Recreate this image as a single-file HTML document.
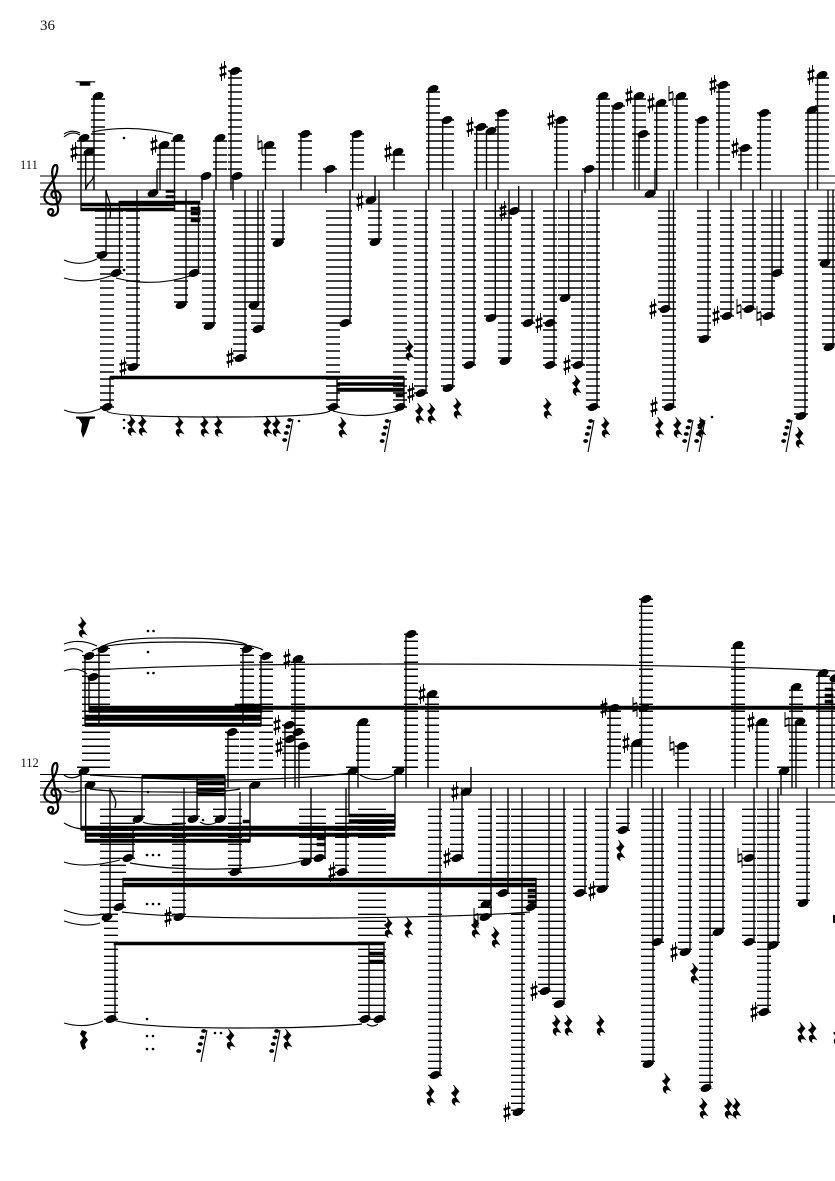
<!DOCTYPE html>
<html><head><meta charset="utf-8"><style>
html,body{margin:0;padding:0;background:#fff}
svg{display:block}
text{font-family:"Liberation Serif",serif;fill:#111}
.st{stroke:#000;stroke-width:1.35;fill:none}
.lg{stroke:#000;stroke-width:14;stroke-dasharray:1.45 5.55;fill:none}
.sl{stroke:#000;stroke-width:1.15;fill:none}
.dt{stroke:#000;stroke-width:2.6;stroke-linecap:round;fill:none}
</style></head><body>
<svg width="835" height="1181" viewBox="0 0 835 1181" xmlns="http://www.w3.org/2000/svg">
<defs>
<ellipse id="n" rx="5.7" ry="3.7" transform="rotate(-22)"/>
<g id="s"><path d="M-1.5-7.5V10M1.5-10V7.5" stroke="#000" stroke-width="1" fill="none"/><path d="M-3.4-2.3L3.4-4.7M-3.4 4.7L3.4 2.3" stroke="#000" stroke-width="2.5" fill="none"/></g>
<g id="h"><path d="M-2-10V4.5L2 3M2-3.500V10M-2-3L2-4.500" stroke="#000" stroke-width="1" fill="none"/><path d="M-2-2.700L2-4M-2 4L2 2.700" stroke="#000" stroke-width="1.7" fill="none"/></g>
<path id="r" d="M-2.500-10L3-3.500Q0-.5-.5 2L3.500 7.500C0 6-2.500 7-.8 10.500C-5 8-5 2.500 0 3L-4.500-2Q-.5-4-1-7z" stroke="#000" stroke-width=".7"/>
<g id="x"><path d="M0 0L-6 32" stroke="#000" stroke-width="1.1"/><ellipse cx="-3.300" cy="1" rx="2.500" ry="1.900"/><ellipse cx="-5" cy="7.500" rx="2.500" ry="1.900"/><ellipse cx="-6.700" cy="14" rx="2.500" ry="1.900"/><ellipse cx="-8.300" cy="21" rx="2.500" ry="1.900"/></g>
<path id="c" d="M55 198c-4 0-5-6-1-7c5-1 8 4 6 9c-2 6-12 6-15 0c-3-8 6-15 10-23c3-6 3-12 1-12c-3 0-5 5-3 14l5 29c1 6-4 9-8 7c-3-2-2-6 1-6c3 0 3 5 0 5" fill="none" stroke="#000" stroke-width="2.200"/>
</defs>

<text x="40" y="30" font-size="15">36</text>
<text x="20" y="169" font-size="12.5">111</text>
<text x="20.500" y="767" font-size="12.500">112</text>

<!-- staves -->
<path d="M40 176H835M40 183H835M40 190H835M40 197H835M40 204H835M40 788H835M40 795H835M40 802H835" stroke="#000" fill="none"/>
<path d="M40 774.500H835M40 781.500H835" stroke="#000" fill="none"/>
<use href="#c"/><use href="#c" y="598"/>

<!-- ledger stacks -->
<path class="lg" d="M98 169.7V94M84 169.7V136M89 169.7V150M164 169.7V143M178 169.7V136M220 169.7V136M235 169.7V70M269 169.7V143M305 169.7V133M357 169.7V133M398 169.7V150M433 169.7V87M447 169.7V119M481 169.7V126M491 169.7V129M502 169.7V112M561 169.7V119M603 169.7V94M618 169.7V105M639 169.7V94M643 169.7V133M661 169.7V101M681 169.7V94M702 169.7V119M723 169.7V84M745 169.7V147M764 169.7V112M812 169.7V108M822 169.7V73M330 169.7V168M589 169.7V168"/>
<path class="lg" d="M514 210.3V212M102 210.3V256M116 210.3V274M133 210.3V368M107 210.3V408M181 210.3V306M194 210.3V274M209 210.3V327M240 210.3V359M254 210.3V306M258 210.3V330M278 210.3V244M333 210.3V408M345 210.3V324M375 210.3V243M400 210.3V408M421 210.3V394M448 210.3V389M469 210.3V366M491 210.3V319M505 210.3V362M528 210.3V324M550 210.3V366M565 210.3V299M578 210.3V366M593 210.3V408M665 210.3V310M669 210.3V408M704 210.3V340M727 210.3V317M749 210.3V310M768 210.3V317M777 210.3V274M801 210.3V417M825 210.3V264M829 210.3V348"/>
<path class="lg" d="M89 768V655M103 768V648M93 768V676M84 768V766.500M247 768V648M266 768V655M232 768V731M298 768V658M289 768V724M298 768V731M303 768V745M363 768V721M353 768V766.500M399 768V766.500M411 768V633M432 768V693M614 768V707M646 768V598M637 768V742M682 768V745M738 768V644M762 768V721M796 768V686M800 768V721M784 768V766.500M823 768V672M835 768V677"/>
<path class="lg" d="M138 808.600V820M193 808.600V820M220 808.600V820M128 808.600V859M107 808.600V918M119 808.600V908M111 808.600V1020M179 808.600V918M235 808.600V873M306 808.600V863M319 808.600V859M342 808.600V873M365 808.600V1020M379 808.600V1020M435 808.600V1076M457 808.600V859M485 808.600V918M503 808.600V894M531 808.600V908M518 808.600V1113M545 808.600V992M559 808.600V1005M580 808.600V894M602 808.600V890M623 808.600V831M648 808.600V1065M657 808.600V943M685 808.600V953M706 808.600V1089M718 808.600V933M749 808.600V943M773 808.600V946M764 808.600V1013M803 808.600V904"/>

<!-- stems -->
<path class="st" d="M94 96V190M81 138V211M85.700 152V190M160 145V190M174.500 138V211M216 138V190M231 71V190M265.500 145V190M301 134V190M352.700 134V190M394 152V190M428.700 89V190M442.700 120V190M476.700 127V190M486.500 131V190M498 113V190M556.700 120V190M599.300 96V190M613 106V190M635 96V190M639 134V190M656.700 103V190M676.700 96V190M697.500 120V190M719 85V190M741 148V190M760.500 113V190M808 110V190M817.500 75V190M202 176V200M233 176V200M326 169V193M585 169V193M157 193V169M375 200V176M518.700 211V186M655 194V169"/>
<path class="st" d="M106 255V190M119.500 273V201M137 367V190M110 407V377M186 305V190M198.500 273V201M214 326V190M245 358V190M258 305V190M263 329V190M283 243V190M337 407V377M350 323V190M379 242V190M404 407V377M426 393V190M452.700 388V190M474 365V190M495.300 318V190M509 361V190M532 323V190M554 365V190M568.700 298V190M582 365V190M597 407V190M669 309V190M673.500 407V190M708 339V190M731 316V190M753 309V190M772 316V190M781 273V190M805 416V190M828 263V190M833 347V190"/>
<path class="st" d="M85 656V726M99 649V726M89 677V712M81 771V830M85.700 785V842M243 649V726M261 656V726M228 732V788M250 785V842M295 659V788M285 725V788M299 746V788M358 722V788M349 771V817M395 771V828M406 634V788M428 694V788M471 792V767M610 708V788M641.500 599V788M632 743V788M678 746V788M735 645V788M757 722V788M792 687V788M796 722V788M781 771V795M819 673V788M832 678V788"/>
<path class="st" d="M142 819V776M197 819V776M225 819V776M133 858V826M110 917V788M123 907V878M115 1019V942M184 917V788M240 872V792M311 862V788M325 858V826M346 872V788M369 1019V942M384 1019V942M440 1075V788M462 858V788M491 917V788M508 893V788M536 907V878M522 1112V788M549 991V788M564 1004V788M585 893V788M607 889V788M628 830V788M653 1064V788M662 942V788M690 952V788M710 1088V788M723 932V788M754 942V788M778 945V788M768 1012V788M807 903V788"/>

<!-- flags -->
<path class="st" stroke-width="1.5" d="M86 189C87 182 94 181 93 176M106 190C107 198 112 200 110 218M110 788C111 795 118 798 115 808"/>

<!-- beams -->
<path stroke="#000" stroke-width=".6" d="M81 203h94v3H81zM81 208h94v3H81zM119 201h81v3.500h-81zM166 190h9v2.500h-9zM166 195.500h9v2.500h-9zM191 207h9v3h-9zM191 212h9v3h-9zM191 218h9v4h-9zM110 376h294v3H110zM337 382.500h67v3h-67zM337 388h67v3.500h-67zM396 394h8v3h-8zM76 81.500h19v.6H76zM80 82.500h10v3H80z
M89 706h173v6.500H89zM85 715h176v5.500H85zM85 723h176v3.500H85zM235 704h27v3h-27zM235 706h600v3.500H235zM142 775h83v3.500h-83zM197 782h28v3h-28zM197 788h28v3h-28zM197 793h28v3h-28zM81 826h314v4.500H81zM85 833h310v3.500H85zM85 839h165v3.500H85zM243 820h7v3h-7zM317 837h8v3h-8zM317 843h8v3h-8zM349 814h46v3h-46zM349 819.500h46v4h-46zM123 878h413v3H123zM123 883h413v4H123zM114 942h270v3H114zM369 952h15v3h-15zM369 960h15v3h-15zM528 889h8v3h-8zM528 895h8v3h-8zM528 900h8v3h-8zM825 688h8v3h-8zM825 694h8v3h-8zM825 700h8v3h-8z"/>

<!-- noteheads -->
<g>
<use href="#n" x="98" y="96"/><use href="#n" x="84" y="138"/><use href="#n" x="89" y="152"/><use href="#n" x="153" y="193"/><use href="#n" x="164" y="145"/><use href="#n" x="178" y="138"/><use href="#n" x="206" y="176"/><use href="#n" x="220" y="138"/><use href="#n" x="235" y="71"/><use href="#n" x="237" y="176"/><use href="#n" x="269" y="145"/><use href="#n" x="305" y="134"/><use href="#n" x="330" y="169"/><use href="#n" x="357" y="134"/><use href="#n" x="371" y="200"/><use href="#n" x="398" y="152"/><use href="#n" x="433" y="89"/><use href="#n" x="447" y="120"/><use href="#n" x="481" y="127"/><use href="#n" x="491" y="131"/><use href="#n" x="502" y="113"/><use href="#n" x="514" y="211"/><use href="#n" x="561" y="120"/><use href="#n" x="589" y="169"/><use href="#n" x="603" y="96"/><use href="#n" x="618" y="106"/><use href="#n" x="639" y="96"/><use href="#n" x="643" y="134"/><use href="#n" x="650" y="194"/><use href="#n" x="661" y="103"/><use href="#n" x="681" y="96"/><use href="#n" x="702" y="120"/><use href="#n" x="723" y="85"/><use href="#n" x="745" y="148"/><use href="#n" x="764" y="113"/><use href="#n" x="812" y="110"/><use href="#n" x="822" y="75"/>
<use href="#n" x="102" y="255"/><use href="#n" x="116" y="273"/><use href="#n" x="133" y="367"/><use href="#n" x="107" y="407"/><use href="#n" x="181" y="305"/><use href="#n" x="194" y="273"/><use href="#n" x="209" y="326"/><use href="#n" x="240" y="358"/><use href="#n" x="254" y="305"/><use href="#n" x="258" y="329"/><use href="#n" x="278" y="243"/><use href="#n" x="333" y="407"/><use href="#n" x="345" y="323"/><use href="#n" x="375" y="242"/><use href="#n" x="400" y="407"/><use href="#n" x="421" y="393"/><use href="#n" x="448" y="388"/><use href="#n" x="469" y="365"/><use href="#n" x="491" y="318"/><use href="#n" x="505" y="361"/><use href="#n" x="528" y="323"/><use href="#n" x="550" y="323"/><use href="#n" x="550" y="365"/><use href="#n" x="565" y="298"/><use href="#n" x="578" y="365"/><use href="#n" x="593" y="407"/><use href="#n" x="665" y="309"/><use href="#n" x="669" y="407"/><use href="#n" x="704" y="339"/><use href="#n" x="727" y="316"/><use href="#n" x="749" y="309"/><use href="#n" x="768" y="316"/><use href="#n" x="777" y="273"/><use href="#n" x="801" y="416"/><use href="#n" x="825" y="263"/><use href="#n" x="829" y="347"/>
<use href="#n" x="89" y="656"/><use href="#n" x="103" y="649"/><use href="#n" x="93" y="677"/><use href="#n" x="84" y="771"/><use href="#n" x="90" y="785"/><use href="#n" x="247" y="649"/><use href="#n" x="266" y="656"/><use href="#n" x="232" y="732"/><use href="#n" x="255" y="785"/><use href="#n" x="298" y="659"/><use href="#n" x="289" y="725"/><use href="#n" x="290" y="739"/><use href="#n" x="298" y="732"/><use href="#n" x="303" y="746"/><use href="#n" x="363" y="722"/><use href="#n" x="353" y="771"/><use href="#n" x="399" y="771"/><use href="#n" x="411" y="634"/><use href="#n" x="432" y="694"/><use href="#n" x="466" y="792"/><use href="#n" x="614" y="708"/><use href="#n" x="646" y="599"/><use href="#n" x="644" y="708"/><use href="#n" x="637" y="743"/><use href="#n" x="682" y="746"/><use href="#n" x="738" y="645"/><use href="#n" x="762" y="722"/><use href="#n" x="796" y="687"/><use href="#n" x="800" y="722"/><use href="#n" x="784" y="771"/><use href="#n" x="823" y="673"/><use href="#n" x="835" y="678"/>
<use href="#n" x="138" y="819"/><use href="#n" x="193" y="819"/><use href="#n" x="220" y="819"/><use href="#n" x="128" y="858"/><use href="#n" x="107" y="917"/><use href="#n" x="119" y="907"/><use href="#n" x="111" y="1019"/><use href="#n" x="179" y="917"/><use href="#n" x="235" y="872"/><use href="#n" x="306" y="862"/><use href="#n" x="319" y="858"/><use href="#n" x="342" y="872"/><use href="#n" x="365" y="1019"/><use href="#n" x="379" y="1019"/><use href="#n" x="435" y="1075"/><use href="#n" x="457" y="858"/><use href="#n" x="485" y="917"/><use href="#n" x="486" y="904"/><use href="#n" x="503" y="893"/><use href="#n" x="531" y="907"/><use href="#n" x="518" y="1112"/><use href="#n" x="545" y="991"/><use href="#n" x="559" y="1004"/><use href="#n" x="580" y="893"/><use href="#n" x="602" y="889"/><use href="#n" x="623" y="830"/><use href="#n" x="648" y="1064"/><use href="#n" x="657" y="942"/><use href="#n" x="685" y="952"/><use href="#n" x="706" y="1088"/><use href="#n" x="718" y="932"/><use href="#n" x="749" y="858"/><use href="#n" x="749" y="942"/><use href="#n" x="773" y="945"/><use href="#n" x="764" y="1012"/><use href="#n" x="803" y="903"/>
</g>

<!-- accidentals -->
<g>
<use href="#s" x="74" y="152"/><use href="#s" x="154" y="145"/><use href="#s" x="123" y="367"/><use href="#s" x="230" y="358"/><use href="#s" x="223" y="71"/><use href="#s" x="360" y="201"/><use href="#s" x="388" y="152"/><use href="#s" x="470" y="127"/><use href="#s" x="551" y="120"/><use href="#s" x="503" y="211"/><use href="#s" x="411" y="393"/><use href="#s" x="539" y="323"/><use href="#s" x="567" y="365"/><use href="#s" x="629" y="96"/><use href="#s" x="651" y="103"/><use href="#s" x="713" y="85"/><use href="#s" x="735" y="148"/><use href="#s" x="811" y="75"/><use href="#s" x="653" y="309"/><use href="#s" x="654" y="407"/><use href="#s" x="716" y="316"/>
<use href="#s" x="287" y="659"/><use href="#s" x="277" y="725"/><use href="#s" x="279" y="747"/><use href="#s" x="422" y="694"/><use href="#s" x="455" y="792"/><use href="#s" x="604" y="708"/><use href="#s" x="626" y="743"/><use href="#s" x="751" y="722"/><use href="#s" x="168" y="917"/><use href="#s" x="332" y="872"/><use href="#s" x="447" y="858"/><use href="#s" x="507" y="1112"/><use href="#s" x="534" y="991"/><use href="#s" x="592" y="891"/><use href="#s" x="674" y="952"/><use href="#s" x="754" y="1012"/>
<use href="#h" x="260" y="145"/><use href="#h" x="671" y="96"/><use href="#h" x="739" y="309"/><use href="#h" x="759" y="316"/><use href="#h" x="635" y="707"/><use href="#h" x="672" y="746"/><use href="#h" x="787" y="722"/><use href="#h" x="740" y="858"/><use href="#h" x="476" y="918"/>
</g>

<!-- rests -->
<g>
<use href="#r" x="132" y="425"/><use href="#r" x="143" y="425"/><use href="#r" x="180" y="426"/><use href="#r" x="205" y="426"/><use href="#r" x="219" y="426"/><use href="#r" x="268" y="426"/><use href="#r" x="277" y="426"/><use href="#r" x="410" y="350"/><use href="#r" x="420" y="413"/><use href="#r" x="432" y="413"/><use href="#r" x="458" y="408"/><use href="#r" x="548" y="408"/><use href="#r" x="577" y="385"/><use href="#r" x="343" y="427"/><use href="#r" x="606" y="427"/><use href="#r" x="660" y="427"/><use href="#r" x="678" y="427"/><use href="#r" x="702" y="427"/><use href="#r" x="800" y="437"/>
<use href="#r" x="83" y="627"/><use href="#r" x="231" y="1039"/><use href="#r" x="288" y="1039"/><use href="#r" x="389" y="927"/><use href="#r" x="409" y="927"/><use href="#r" x="476" y="927"/><use href="#r" x="496" y="937"/><use href="#r" x="431" y="1095"/><use href="#r" x="456" y="1095"/><use href="#r" x="557" y="1025"/><use href="#r" x="569" y="1025"/><use href="#r" x="601" y="1025"/><use href="#r" x="621" y="850"/><use href="#r" x="695" y="973"/><use href="#r" x="667" y="1083"/><use href="#r" x="704" y="1108"/><use href="#r" x="729" y="1108"/><use href="#r" x="737" y="1108"/><use href="#r" x="802" y="1032"/><use href="#r" x="813" y="1032"/><use href="#r" x="838" y="1035"/>
<use href="#x" x="293" y="419"/><use href="#x" x="390.500" y="420"/><use href="#x" x="594" y="420"/><use href="#x" x="693" y="420"/><use href="#x" x="705" y="420"/><use href="#x" x="792" y="420"/><use href="#x" x="207" y="1030"/><use href="#x" x="280" y="1030"/>
<path d="M76 416.500H95V418.500L90 419 88 426 86 432 83 438 81 431 82 424 79 419 76 418.500z"/>
<path d="M82 1030L87 1032 85 1036 88 1040 85 1044 86 1048 83 1050 81 1046 80 1042 83 1038 80 1034z"/>
<path d="M833 915h2v8h-2z"/>
</g>

<!-- dots -->
<path class="dt" d="M124 138h0M124 270h0M124 420h0M124 428h0M299 421h0M712 417h0M148 631h0M153.500 631h0M148 652h0M148 673h0M153.500 673h0M148 792h0M203 820h0M147 855h0M153 855h0M159 855h0M147 904h0M153 904h0M159 904h0M147 1019h0M147 1036h0M153 1036h0M147 1049h0M153 1049h0M215 1033h0M221 1033h0"/>

<!-- slurs and ties -->
<path class="sl" d="M64 137Q72 130 80 135M64 134Q72 129 80 133M92 132Q130 124 173 134M64 260Q80 267 97 259M64 278Q88 285 113 275M116 278Q155 288 193 275M64 410Q82 417 102 408M107 411Q110 417 220 417Q320 417 330 411M333 411Q365 420 398 411"/>
<path class="sl" d="M64 644Q80 638 97 646M64 651Q75 646 83 652M64 671Q78 666 87 674M103 646Q120 637 175 638Q235 638 247 645M92 651Q105 642 180 642Q250 642 263 650M93 670Q200 664 400 664Q700 664 835 671M64 775Q72 781 82 774M64 790Q72 794 82 790M90 775Q200 782 270 779Q320 777 350 773M90 789Q110 792 170 792Q220 793 240 789M64 823Q72 828 82 829M143 822Q150 826 183 824M200 822Q208 827 217 822M360 775Q376 784 394 775M64 862Q85 869 120 860M130 863Q170 870 220 869Q280 868 304 860M64 910Q85 918 104 914M64 921Q85 928 100 923M122 912Q180 919 330 918Q470 917 530 912M64 1023Q85 1029 103 1021M113 1020Q140 1028 240 1028Q320 1028 362 1024M367 1024Q372 1028 378 1024"/>
</svg>
</body></html>
